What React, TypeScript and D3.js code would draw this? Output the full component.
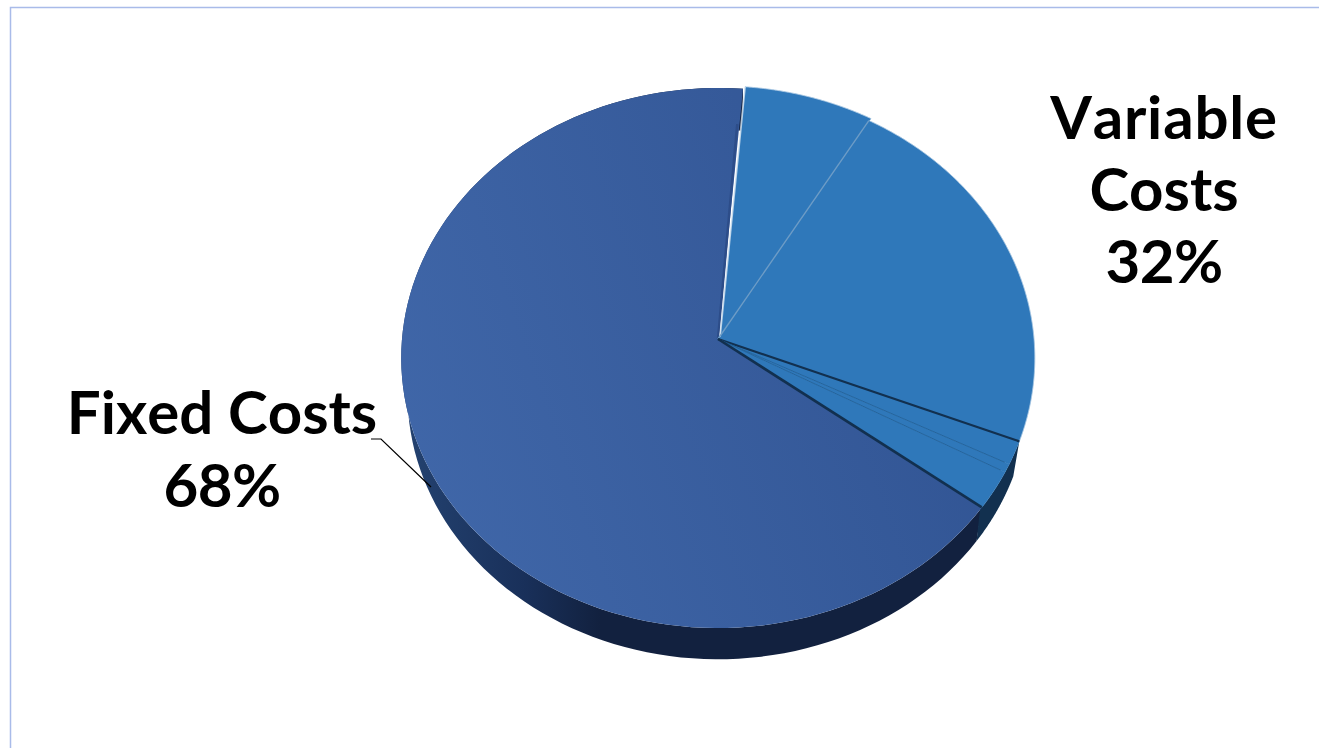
import React from "react";
import * as d3 from "d3";

// Slice sizes as a share of the pie (the printed labels are 68% / 32%).
const sliceNames = ["Fixed Costs", "Variable A", "Variable B", "Variable C", "Variable D", "Variable E"];
const sliceValues = [66.1, 7.1, 22.6, 1.4, 0.5, 2.3];
const sliceGroups = ["fixed", "variable", "variable", "variable", "variable", "variable"];
const labels = [
  { lines: ["Variable", "Costs", "32%"] },
  { lines: ["Fixed Costs", "68%"] },
];

const W = 1319, H = 748;
const apex = { x: 718, y: 339 };
const radiusX = 316, radiusY = 268.7, persp = 0.0704;
const wallScale = 0.98, wallDrop = 37;
const startAngle = (126.9 * Math.PI) / 180;
const deg = Math.PI / 180;

function project(theta: number, r = 1, s = 1, d = 0): [number, number] {
  const w = 1 + persp * r * Math.cos(theta);
  return [
    apex.x + (s * radiusX * r * Math.sin(theta)) / w,
    apex.y + d - (s * radiusY * r * Math.cos(theta)) / w,
  ];
}

const arcPts = (a0: number, a1: number, s = 1, d = 0) =>
  d3.range(0, 121).map((i) => project(a0 + ((a1 - a0) * i) / 120, 1, s, d));
const line = d3.line();

const lineStyle = (t: string) =>
  t === "Variable" ? { letterSpacing: "0.8px" } : t.endsWith("%") ? { letterSpacing: "-0.6px" } : {};

export default function App() {
  const arcs = d3
    .pie<number>()
    .sort(null)
    .startAngle(startAngle)
    .endAngle(startAngle + 2 * Math.PI)(sliceValues);
  const fixed = arcs[0];
  const varFirst = arcs[1], varLast = arcs[arcs.length - 1];

  const face = (a0: number, a1: number) =>
    line([[apex.x, apex.y], ...arcPts(a0, a1)])! + "Z";
  const wall = (a0: number, a1: number) =>
    line([...arcPts(a0, a1), ...arcPts(a0, a1, wallScale, wallDrop).reverse()])! + "Z";

  const fixedWall = wall(fixed.startAngle, fixed.endAngle);
  const lightWallPath =
    line([
      ...arcPts(arcs[3].startAngle, varLast.endAngle + 0.6 * deg),
      ...arcPts(arcs[3].startAngle, varLast.endAngle, wallScale, wallDrop).reverse(),
    ])! + "Z";

  const seam = (a: number, r = 1) => {
    const [x, y] = project(a, r);
    return `M${apex.x},${apex.y}L${x},${y}`;
  };

  return (
    <svg width={W} height={H} style={{ position: "absolute", left: 0, top: 0 }}
      fontFamily="Lato" fontWeight={700} fill="#000">
      <defs>
        <linearGradient id="fixedFace" gradientUnits="userSpaceOnUse" x1={400} x2={980} y1={500} y2={300}>
          <stop offset="0" stopColor="#4067a9" />
          <stop offset="1" stopColor="#315493" />
        </linearGradient>
        <linearGradient id="fixedWall" gradientUnits="userSpaceOnUse" x1={410} x2={600} y1={0} y2={0}>
          <stop offset="0" stopColor="#23416f" />
          <stop offset="0.6" stopColor="#19305a" />
          <stop offset="1" stopColor="#12213f" />
        </linearGradient>
      </defs>
      <rect width={W} height={H} fill="#fff" />
      <path d={`M10.5,${H}V7.5H${W}`} fill="none" stroke="#a9bbe9" strokeWidth={1.5} />

      <g data-names={sliceNames.join("|")} data-groups={sliceGroups.join("|")}>
        <path d={fixedWall} fill="url(#fixedWall)" />
        <path d={lightWallPath} fill="#12304f" />
        <path d={face(fixed.startAngle, fixed.endAngle)} fill="url(#fixedFace)" />
        <path d={seam(fixed.endAngle - 0.5 * deg, 0.85)} stroke="#2d4d89" strokeWidth={2.5} fill="none" />
        {arcs.slice(2).map((a, i) => (
          <path key={i} d={face(a.startAngle, a.endAngle)} fill="#2f78ba" stroke="#2f78ba" strokeWidth={0.5} />
        ))}
        <g transform="translate(2,-2)">
          <path d={face(varFirst.startAngle, varFirst.endAngle)} fill="#2f78ba" stroke="#2f78ba" strokeWidth={0.5} />
          <path d={seam(varFirst.startAngle)} stroke="#fff" strokeOpacity={0.65} strokeWidth={1.8} fill="none" />
          <path d={line(arcPts(varFirst.startAngle, varFirst.endAngle))!} fill="none" stroke="#fff" strokeOpacity={0.45} strokeWidth={1} />
        </g>
        <path d={line(arcPts(arcs[2].startAngle, arcs[2].endAngle))!} fill="none" stroke="#fff" strokeOpacity={0.4} strokeWidth={1} />
        <path d={seam(arcs[2].startAngle)} stroke="#6d9cc6" strokeWidth={1.4} fill="none" />
        <path d={seam(arcs[3].startAngle)} stroke="#12304f" strokeWidth={2.2} fill="none" />
        <path d={seam(arcs[4].startAngle, 0.985)} stroke="#1f5d93" strokeWidth={0.8} fill="none" />
        <path d={seam(arcs[5].startAngle, 0.985)} stroke="#1f5d93" strokeWidth={0.8} fill="none" />
        <path d={seam(fixed.startAngle)} stroke="#12304f" strokeWidth={2.6} fill="none" />
      </g>

      <path d="M371,439H381L431,487" fill="none" stroke="#000" strokeWidth={1.2} />
      <text textAnchor="middle" fontSize={60} style={{ fontKerning: "none" }}>
        {labels[0].lines.map((t, i) => (
          <tspan key={t} x={1164} y={139 + i * 72} style={lineStyle(t)}>{t}</tspan>
        ))}
      </text>
      <text textAnchor="middle" fontSize={60} style={{ fontKerning: "none" }}>
        {labels[1].lines.map((t, i) => (
          <tspan key={t} x={222} y={434 + i * 72.5} style={lineStyle(t)}>{t}</tspan>
        ))}
      </text>
    </svg>
  );
}
